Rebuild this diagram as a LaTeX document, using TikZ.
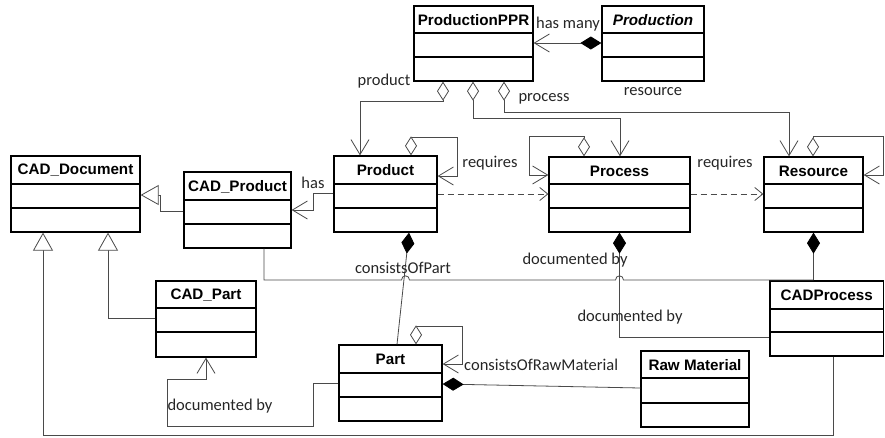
\documentclass[tikz,border=0pt]{standalone}
\usepackage{fontspec}
\setmainfont{Liberation Sans}
\newfontfamily\lblfont{Carlito}
\usetikzlibrary{arrows.meta}
\definecolor{conn}{HTML}{4A4A4A}
\tikzset{
  classbox/.style={draw=black, line width=1.3pt, fill=white, inner sep=0pt, rectangle},
  sepline/.style={draw=black, line width=1.3pt},
  ctitle/.style={font=\fontsize{15.2}{17}\selectfont\bfseries, inner sep=0pt},
  lbl/.style={font=\lblfont\fontsize{16.5}{18}\selectfont, text=black!85, inner sep=0pt},
  conn/.style={draw=conn, line width=0.8pt},
  fd/.tip={Diamond[length=21pt,width=13pt,color=black]},
  od/.tip={Diamond[open,length=19pt,width=12pt,fill=white]},
  ob/.tip={Straight Barb[length=15pt,width=18pt,line width=0.8pt]},
  sb/.tip={Straight Barb[length=8pt,width=13pt,line width=0.8pt]},
  tri/.tip={Triangle[open,length=18pt,width=20pt,fill=white]},
}
% \umlclass{id}{x1}{y1}{x2}{y2}{s1}{s2}{title}
\newcommand{\umlclass}[8]{%
  \node[classbox, minimum width={(#4-#2)*1pt}, minimum height={(#5-#3)*1pt}]
    (#1) at ({(#2+#4)/2},{(#3+#5)/2}) {};
  \draw[sepline] (#2,#6) -- (#4,#6);
  \draw[sepline] (#2,#7) -- (#4,#7);
  \node[ctitle] (#1-t) at ({(#2+#4)/2},{(#3+#6)/2+0.5}) {#8};
}
\begin{document}
\begin{tikzpicture}[x=1pt,y=-1pt]
\useasboundingbox (0,0) rectangle (885,437);

\umlclass{ppr}{414}{6}{533}{81}{33}{57}{ProductionPPR}
\umlclass{prodn}{602}{6}{704}{81}{33}{57}{\itshape Production}
\umlclass{product}{334}{156}{437}{232}{184}{208}{Product}
\umlclass{process}{549}{157}{690}{232}{184}{208}{Process}
\umlclass{resource}{764}{157}{863}{232}{184}{208}{Resource}
\umlclass{caddoc}{11}{156}{140}{232}{184}{208}{CAD\_Document}
\umlclass{cadprod}{184}{172}{291}{248}{200}{224}{CAD\_Product}
\umlclass{cadpart}{156}{281}{256}{357}{308}{332}{CAD\_Part}
\umlclass{part}{339}{345}{442}{421}{373}{397}{Part}
\umlclass{raw}{641}{351}{749}{427}{378}{403}{Raw Material}
\umlclass{cadproc}{770}{281}{883.5}{356}{309}{332}{CADProcess}

% Production -> ProductionPPR
\draw[conn, {fd}-{ob}] (prodn.west |- 0,43) -- (ppr.east |- 0,43);
\node[lbl] (lhasmany) at (568,24) {has many};

% ProductionPPR aggregations
\draw[conn, {od}-{ob}] (ppr.south -| 443,0) -- (443,101) -| (product.north -| 360,0);
\draw[conn, {od}-{ob}] (ppr.south -| 473,0) -- (473,118) -| (process.north -| 620,0);
\draw[conn, {od}-{ob}] (ppr.south -| 504,0) -- (504,112) -| (resource.north -| 789,0);
\node[lbl] (lproduct) at (384,81) {product};
\node[lbl] (lprocess) at (544,99) {process};
\node[lbl] (lresource) at (653,92) {resource};

% self loops
\draw[conn, {od}-{ob}] (product.north -| 411,0) |- (457,137) |- (product.east |- 0,176);
\draw[conn, {od}-{ob}] (process.north -| 584,0) |- (529,136) |- (process.west |- 0,175);
\draw[conn, {od}-{ob}] (resource.north -| 813,0) |- (883,136) |- (resource.east |- 0,175);
\node[lbl] (lreq1) at (490,163) {requires};

% dependencies
\draw[conn, dashed, dash pattern=on 6pt off 4pt, -{sb}] (product.east |- 0,194) -- (process.west |- 0,194);
\draw[conn, dashed, dash pattern=on 6pt off 4pt, -{sb}] (process.east |- 0,194) -- (resource.west |- 0,194);
\node[lbl] (lreq2) at (725,163) {requires};

% has
\draw[conn, -{ob}] (product.west |- 0,193) -- (313,193) |- (cadprod.east |- 0,210);
\node[lbl] (lhas) at (313,183) {has};

% generalizations
\draw[conn, -{tri}] (cadprod.west |- 0,211) -- (160,211) |- (caddoc.east |- 0,195);
\draw[conn, -{tri}] (cadpart.west |- 0,318) -| (caddoc.south -| 108,0);
\draw[conn, -{tri}] (cadproc.south -| 833,0) |- (43,435) -- (caddoc.south -| 43,0);

% Part documented by CAD_Part
\draw[conn, -{ob}] (part.west |- 0,383) -| (313,426) -| (167,379) -| (cadpart.south -| 206,0);
\node[lbl] (ldoc1) at (220,406) {documented by};

% Product consistsOfPart Part
\draw[conn, {fd}-] (product.south -| 409,0) -- (part.north -| 397,0);
\node[lbl] (lcop) at (403,268) {consistsOfPart};

% Part self loop
\draw[conn, {od}-{ob}] (part.north -| 416,0) |- (462,326) |- (part.east |- 0,364);
\node[lbl, anchor=west] (lcorm) at (464,365) {consistsOfRawMaterial};

% Part - Raw Material
\draw[conn, {fd}-] (part.east |- 0,384) -- (raw.west |- 0,388);

% Resource - CADProcess
\draw[conn, {fd}-] (resource.south) -- (resource.south |- cadproc.north);

% CAD_Product line with hops
\draw[conn] (cadprod.south -| 264,0) -- (264,280) -- (401.5,280)
  .. controls (401.5,274.5) and (409.5,274.5) .. (409.5,280)
  -- (615.5,280) .. controls (615.5,274.5) and (623.5,274.5) .. (623.5,280)
  -- (resource.south |- 0,280);

% Process - CADProcess
\draw[conn, {fd}-] (process.south) |- (cadproc.west |- 0,337);
\node[lbl] (ldoc2) at (575,260) {documented by};
\node[lbl] (ldoc3) at (630,317) {documented by};

\end{tikzpicture}
\end{document}
